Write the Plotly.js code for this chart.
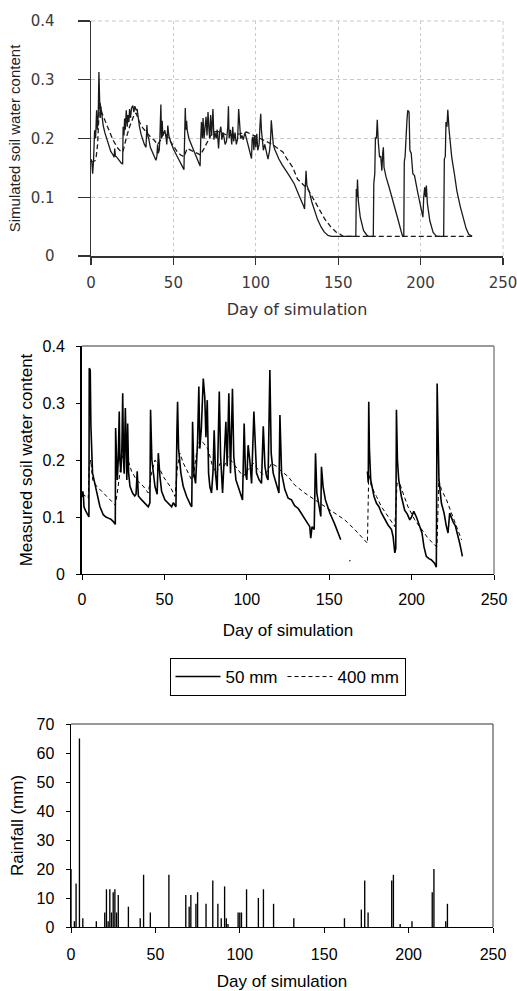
<!DOCTYPE html>
<html>
<head>
<meta charset="utf-8">
<script src="https://cdn.plot.ly/plotly-3.0.1.min.js"></script>
<style>html,body{margin:0;padding:0;background:#fff;}#chart{width:517px;height:991px;}</style>
</head>
<body>
<div id="chart"></div>
<script>
// ---- Panel 1: simulated soil water content ----
const sim50Day = [0,0.5,1,1.5,2.2,2.8,3.4,3.9,4.4,4.8,5.2,5.6,6,6.4,7.4,8.4,10.4,12,13.4,14,14.4,14.8,15.4,17,18.4,19.2,19.5,20,20.4,20.8,21.4,22,22.4,23,23.4,24,24.6,25.4,26,26.6,27.4,28,28.4,29.4,30.4,31.4,32.4,33.4,33.9,34.4,35,36,37.4,38.4,39.4,40,40.4,40.8,41.4,41.8,42.4,42.8,43.2,43.6,44.8,45.6,46,46.6,47.2,48.4,50,52.4,54,55.4,56.4,56.8,57.2,57.6,58,58.4,59.4,61.4,63,64.4,66.2,66.6,67,67.6,68,68.6,69,69.8,70.4,71,71.6,72,72.6,73.2,74,74.6,75.2,76,76.6,77.4,78,78.8,79.4,80.2,81.4,82.2,83,83.4,83.8,84.6,85.4,86,86.6,87.4,88.2,89,89.6,90.2,90.8,91.6,92.4,93.4,94.4,95.4,96.4,97.4,97.8,98.4,98.8,99.4,100,100.6,101.2,102,102.6,103,103.4,104,104.6,105.4,106.4,107.4,108.4,109,109.4,110,110.6,111.4,112.4,114,116,118.4,120,123.3,125.3,127,129,129.6,130,130.5,131,131.5,132.5,134,135.6,137.5,139.7,141.5,143.8,145.9,160.7,161,161.4,161.7,162.2,163.4,164.4,165.4,167.5,168.5,171.3,171.6,172.2,172.6,173.2,173.7,174.3,175.1,175.8,176.5,177,177.4,177.8,179,180.9,183,185,186.5,188.1,189.1,189.8,190.1,190.6,191.2,191.7,192.2,193,193.5,194.3,195.3,196.3,198.4,200,201.4,201.9,202.5,203,203.5,204.1,205.6,207.6,209.7,214,214.4,215,215.4,216,216.5,217.3,218,218.9,220.5,222,224,226.1,227.6,229.2,231.3];
const sim50Val = [0.165,0.16,0.14,0.16,0.214,0.2,0.248,0.215,0.24,0.313,0.27,0.235,0.254,0.242,0.222,0.21,0.19,0.178,0.172,0.168,0.183,0.17,0.169,0.163,0.158,0.157,0.22,0.205,0.234,0.215,0.248,0.22,0.24,0.228,0.25,0.235,0.252,0.256,0.245,0.255,0.248,0.25,0.238,0.22,0.207,0.197,0.19,0.185,0.223,0.205,0.2,0.185,0.175,0.168,0.163,0.17,0.19,0.175,0.18,0.2,0.258,0.2,0.23,0.205,0.214,0.2,0.19,0.222,0.205,0.194,0.182,0.169,0.16,0.152,0.147,0.2,0.252,0.215,0.23,0.214,0.2,0.186,0.175,0.166,0.153,0.2,0.228,0.2,0.235,0.2,0.215,0.237,0.205,0.245,0.215,0.2,0.24,0.205,0.25,0.198,0.21,0.2,0.215,0.183,0.21,0.22,0.198,0.21,0.19,0.195,0.22,0.255,0.2,0.215,0.19,0.22,0.195,0.21,0.19,0.2,0.25,0.22,0.2,0.205,0.198,0.21,0.2,0.19,0.176,0.166,0.2,0.203,0.18,0.205,0.185,0.208,0.18,0.19,0.225,0.242,0.215,0.2,0.18,0.19,0.175,0.165,0.18,0.2,0.231,0.205,0.19,0.182,0.175,0.165,0.155,0.146,0.138,0.123,0.111,0.098,0.085,0.08,0.115,0.145,0.12,0.117,0.109,0.092,0.077,0.062,0.049,0.041,0.035,0.0335,0.0335,0.114,0.1,0.13,0.094,0.066,0.052,0.043,0.035,0.0335,0.0335,0.123,0.14,0.202,0.2,0.232,0.195,0.168,0.17,0.145,0.175,0.185,0.151,0.135,0.117,0.097,0.077,0.06,0.043,0.0335,0.0335,0.16,0.17,0.219,0.23,0.248,0.245,0.18,0.175,0.14,0.137,0.106,0.085,0.066,0.1,0.117,0.1,0.12,0.09,0.06,0.04,0.0335,0.0335,0.165,0.17,0.228,0.22,0.249,0.214,0.19,0.168,0.14,0.111,0.085,0.06,0.047,0.037,0.0335];

const sim400Day = [0,2.4,3.2,4,4.8,5.4,6.4,8.4,10.4,13.4,16.4,18.4,19.4,20.4,21.8,23.4,25,26.4,27.4,29.4,31.4,33.4,36,38.4,40.4,42.4,44.4,46.4,48.4,50.4,52.4,54.4,56.4,58.4,60.4,62.4,64.4,66.4,68.4,70.4,72.4,74.4,76.4,78.4,81.4,84.4,87.4,90.4,94.4,98.4,102.4,106.4,110.4,113.4,116.4,119,122.4,125.3,128.4,131.5,133.6,135.6,138.6,141.8,145.4,149,151,153,231.3];
const sim400Val = [0.16,0.162,0.17,0.19,0.24,0.262,0.245,0.231,0.217,0.197,0.183,0.177,0.178,0.19,0.205,0.22,0.233,0.242,0.243,0.228,0.218,0.211,0.203,0.197,0.19,0.198,0.211,0.203,0.194,0.185,0.177,0.172,0.169,0.183,0.18,0.177,0.174,0.172,0.182,0.194,0.204,0.211,0.212,0.211,0.207,0.206,0.207,0.208,0.211,0.206,0.2,0.195,0.189,0.183,0.177,0.165,0.151,0.131,0.122,0.114,0.104,0.094,0.078,0.063,0.05,0.04,0.0375,0.0335,0.0335];

// ---- Panel 2: measured soil water content (null = missing record) ----
const meas50Day = [0,0.5,0.8,1.2,2,2.8,3.8,4.2,4.4,5,5.4,5.9,6.4,7.3,8.9,10.9,12.9,14.5,16,17.5,19,20.2,20.4,20.9,21.4,22,22.6,23,23.6,24.2,24.7,25.2,25.6,26.3,26.8,27.2,27.7,28.3,29.1,30.7,32,32.8,33.5,34.2,36.2,38.2,40.2,41.2,41.6,42.4,44.3,45.6,46.3,47.3,48.3,50.3,52.3,54.4,55.4,57,57.6,58,58.6,60,61.4,63.5,65.9,66.6,67.1,67.9,68.9,70.1,70.9,71.5,72.4,73.6,74.5,75.2,76,76.8,77.6,78.6,79.5,80.2,81,82,83.3,84.1,85.3,86.5,87.3,88.1,89.1,90.1,91.3,92.1,93.4,94.8,96.2,97.4,98.4,99.2,100,100.8,101.8,102.9,104.3,105.1,105.9,107.5,108.9,110,111,112,112.9,114,114.8,116,118,119.5,120.1,121.1,123.1,125.1,127.1,129,131.2,134.2,136.8,138.2,138.8,139.6,140.9,141.7,142.5,143.3,144.1,144.9,145.3,146.3,147.7,150.4,153.4,155.5,157,159,162.3,162.8,165,173.2,173.7,174,174.4,175.2,176,177.2,178.7,180.2,181.7,183.7,185.7,187.8,188.8,189.8,190.4,190.8,191.4,192.2,193.8,195.8,197.4,198.9,200,201.3,202.9,205,206.3,207.5,208.9,210.5,211.9,213.9,215,215.5,216,216.6,218.1,219.7,221,222.1,223.1,224,225.1,226.5,227.8,229.2,230.2,230.8];
const meas50Val = [0.135,0.145,0.139,0.118,0.112,0.107,0.101,0.1,0.361,0.358,0.26,0.218,0.177,0.165,0.142,0.118,0.104,0.1,0.098,0.096,0.092,0.087,0.256,0.2,0.165,0.2,0.285,0.2,0.178,0.22,0.317,0.2,0.176,0.291,0.22,0.165,0.264,0.177,0.154,0.142,0.137,0.14,0.18,0.137,0.13,0.124,0.118,0.125,0.288,0.2,0.153,0.14,0.212,0.171,0.145,0.13,0.124,0.118,0.125,0.118,0.25,0.302,0.22,0.177,0.154,0.136,0.121,0.118,0.267,0.177,0.159,0.23,0.329,0.22,0.255,0.343,0.31,0.24,0.305,0.177,0.153,0.142,0.18,0.252,0.177,0.147,0.32,0.206,0.142,0.217,0.267,0.189,0.317,0.177,0.325,0.206,0.165,0.153,0.139,0.13,0.264,0.177,0.165,0.226,0.2,0.159,0.285,0.218,0.177,0.165,0.159,0.259,0.189,0.171,0.165,0.358,0.212,0.177,0.154,0.142,0.279,0.177,0.148,0.133,0.13,0.12,0.115,0.101,0.089,0.083,0.063,0.083,0.078,0.212,0.142,0.13,0.118,0.101,0.188,0.153,0.13,0.107,0.087,0.072,0.06,null,0.024,0.023,null,0.18,0.16,0.302,0.22,0.165,0.15,0.136,0.124,0.118,0.107,0.095,0.086,0.078,0.065,0.037,0.045,0.288,0.2,0.165,0.136,0.112,0.105,0.095,0.1,0.11,0.1,0.083,0.072,0.048,0.031,0.027,0.025,0.019,0.012,0.334,0.24,0.165,0.124,0.107,0.085,0.072,0.107,0.1,0.092,0.085,0.072,0.054,0.04,0.031];

const meas400Day = [0,0.8,2.5,3.8,4.4,5.3,6.5,8.9,12.9,16,19,20.2,21.4,22.6,24,26,28.1,30.1,33.1,37.2,40.2,42.2,44.3,46.3,49.3,53.4,56.4,58,59.4,61.4,64.5,66.5,67.5,69.5,71.5,74,76.6,79.2,81.7,83.7,86.5,88.7,91.8,94.8,97.8,100.8,103.9,106.9,109.9,112.5,115,118,121.1,125.1,129.1,135.2,141.3,144.3,147.3,153.4,159.4,165.5,171.6,173.2,174,175.6,178.7,181.7,185.7,189.8,191.2,192.8,194.8,197.8,201.9,205.9,209.9,213.9,215.4,216.5,218.1,221.2,224.2,227.3,230.3];
const meas400Val = [0.14,0.139,0.136,0.133,0.189,0.2,0.165,0.154,0.142,0.133,0.124,0.121,0.142,0.165,0.2,0.218,0.2,0.18,0.165,0.154,0.142,0.177,0.2,0.19,0.171,0.154,0.136,0.189,0.212,0.195,0.177,0.165,0.17,0.212,0.235,0.229,0.218,0.189,0.177,0.194,0.19,0.206,0.194,0.183,0.171,0.183,0.194,0.183,0.174,0.18,0.194,0.189,0.18,0.171,0.156,0.142,0.13,0.124,0.118,0.107,0.095,0.078,0.06,0.054,0.177,0.154,0.136,0.118,0.101,0.083,0.159,0.159,0.142,0.118,0.095,0.078,0.063,0.051,0.048,0.165,0.148,0.13,0.107,0.083,0.06];

// ---- Panel 3: rainfall ----
const rainDay = [0,2,3,5,7,15,20,21,22,23,24,25,26,27,28,34,41,43,47,58,68,70,71,74,75,80,84,87,89,91,92,93,99,100,101,104,111,114,120,132,162,172,174,176,190,191,195,202,214,215,222,223];
const rainMm  = [20,2,15,65,3,2,5,13,2,13,5,12,13,5,11,7,3,18,5,18,11,7,11,8,12,8,16,8,3,14,3,1,5,5,5,13,10,13,8,3,3,6,16,5,16,18,1,2,12,20,2,8];

// ---- labels ----
const seriesNames = ['50 mm', '400 mm'];
const xTitle = 'Day of simulation';
const yTitles = ['Simulated soil water content', 'Measured soil water content', 'Rainfall (mm)'];

const W = 517, H = 991;
const dx = (a, b) => [a / W, b / W];
const dy = (top, bottom) => [1 - bottom / H, 1 - top / H];

const fP1 = {family: 'DejaVu Sans, Verdana, sans-serif', size: 15, color: '#3a3a3a'};
const fXL = {family: 'Liberation Sans, Arial, sans-serif', size: 16, color: '#000'};
const fXT = {family: 'Liberation Sans, Arial, sans-serif', size: 17, color: '#000'};
const gridStyle = {color: '#c8c8c8', width: 1, dash: '4px,3px'};

const traces = [
  {x: sim50Day, y: sim50Val, xaxis: 'x', yaxis: 'y', type: 'scatter', mode: 'lines', name: seriesNames[0], showlegend: false,
   line: {color: '#1a1a1a', width: 1.3}},
  {x: sim400Day, y: sim400Val, xaxis: 'x', yaxis: 'y', type: 'scatter', mode: 'lines', name: seriesNames[1], showlegend: false,
   line: {color: '#1a1a1a', width: 1.3, dash: '5px,3px'}},
  {x: meas50Day, y: meas50Val, xaxis: 'x2', yaxis: 'y2', type: 'scatter', mode: 'lines', name: seriesNames[0],
   line: {color: '#000', width: 1.6}, connectgaps: false},
  {x: meas400Day, y: meas400Val, xaxis: 'x2', yaxis: 'y2', type: 'scatter', mode: 'lines', name: seriesNames[1],
   line: {color: '#000', width: 1, dash: '4px,3px'}},
  {x: rainDay, y: rainMm, xaxis: 'x3', yaxis: 'y3', type: 'bar', width: 0.8, showlegend: false,
   marker: {color: '#000', line: {width: 0}}}
];

const layout = {
  width: W, height: H,
  margin: {l: 0, r: 0, t: 0, b: 0},
  paper_bgcolor: '#fff', plot_bgcolor: 'rgba(0,0,0,0)',
  showlegend: true,
  legend: {orientation: 'h', x: 287.5 / W, y: 1 - 677 / H, xanchor: 'center', yanchor: 'middle',
           bordercolor: '#000', borderwidth: 1, bgcolor: '#fff', itemwidth: 45,
           font: {family: 'Liberation Sans, Arial, sans-serif', size: 17, color: '#000'}},
  // panel 1
  xaxis: {domain: dx(91, 503), anchor: 'y', range: [0, 250], dtick: 50, tick0: 0,
          showgrid: true, gridcolor: '#c8c8c8', griddash: '3px,3px', gridwidth: 1, zeroline: false,
          showline: true, linecolor: '#333', linewidth: 1.5,
          ticks: 'outside', ticklen: 7, tickcolor: '#333', tickwidth: 1.2,
          tickfont: fP1, ticklabelstandoff: 5, ticklabeloverflow: 'allow',
          title: {text: xTitle, font: {family: 'DejaVu Sans, Verdana, sans-serif', size: 16, color: '#333'}, standoff: 13}},
  yaxis: {domain: dy(21, 256), anchor: 'x', range: [0, 0.4], dtick: 0.1, tick0: 0,
          showgrid: true, gridcolor: '#c8c8c8', griddash: '4px,3px', gridwidth: 1, zeroline: false,
          showline: true, linecolor: '#333', linewidth: 1.5,
          ticks: 'outside', ticklen: 12, tickcolor: '#333', tickwidth: 1.2,
          tickfont: fP1, ticklabelstandoff: 20, ticklabeloverflow: 'allow',
          title: {text: yTitles[0], font: {family: 'Liberation Sans, Arial, sans-serif', size: 15, color: '#222'}, standoff: 6}},
  // panel 2
  xaxis2: {domain: dx(82, 494), anchor: 'y2', range: [0, 250], dtick: 50, tick0: 0,
           showgrid: false, zeroline: false, showline: true, linecolor: '#000', linewidth: 1.2,
           ticks: 'outside', ticklen: 5, tickcolor: '#000', tickwidth: 1,
           tickfont: fXL, ticklabelstandoff: 6, ticklabeloverflow: 'allow',
           title: {text: xTitle, font: fXT, standoff: 16}},
  yaxis2: {domain: dy(346, 574), anchor: 'x2', range: [0, 0.4], dtick: 0.1, tick0: 0,
           showgrid: false, zeroline: false, showline: true, linecolor: '#000', linewidth: 2,
           ticks: 'outside', ticklen: 4, tickcolor: '#000', tickwidth: 1,
           tickfont: fXL, ticklabelstandoff: 8,
           title: {text: yTitles[1], font: fXT, standoff: 6}},
  // panel 3
  xaxis3: {domain: dx(71, 493), anchor: 'y3', range: [0, 250], dtick: 50, tick0: 0,
           showgrid: false, zeroline: false, showline: true, linecolor: '#000', linewidth: 1.2,
           ticks: 'outside', ticklen: 5, tickcolor: '#000', tickwidth: 1,
           tickfont: fXL, ticklabelstandoff: 8, ticklabeloverflow: 'allow',
           title: {text: xTitle, font: fXT, standoff: 17}},
  yaxis3: {domain: dy(724, 927), anchor: 'x3', range: [0, 70], dtick: 10, tick0: 0,
           showgrid: false, zeroline: false, showline: true, linecolor: '#000', linewidth: 1.5,
           ticks: 'outside', ticklen: 4, tickcolor: '#000', tickwidth: 1,
           tickfont: fXL, ticklabelstandoff: 8,
           title: {text: yTitles[2], font: fXT, standoff: 8}},
  shapes: [
    // panel 1: dashed grid lines at the range edges (0.4 and 250)
    {type: 'line', xref: 'x domain', yref: 'y domain', x0: 0, x1: 1, y0: 1, y1: 1, line: gridStyle, layer: 'below'},
    {type: 'line', xref: 'x domain', yref: 'y domain', x0: 1, x1: 1, y0: 0, y1: 1, line: gridStyle, layer: 'below'},
    // panel 2 and 3 frames
    {type: 'line', xref: 'x2 domain', yref: 'y2 domain', x0: 0, x1: 1, y0: 1, y1: 1, line: {color: '#777', width: 1.3}},
    {type: 'line', xref: 'x2 domain', yref: 'y2 domain', x0: 1, x1: 1, y0: 0, y1: 1, line: {color: '#777', width: 1.3}},
    {type: 'line', xref: 'x3 domain', yref: 'y3 domain', x0: 0, x1: 1, y0: 1, y1: 1, line: {color: '#333', width: 1.2}},
    {type: 'line', xref: 'x3 domain', yref: 'y3 domain', x0: 1, x1: 1, y0: 0, y1: 1, line: {color: '#555', width: 1.2}}
  ]
};

Plotly.newPlot('chart', traces, layout, {staticPlot: true, displayModeBar: false});
</script>
</body>
</html>
